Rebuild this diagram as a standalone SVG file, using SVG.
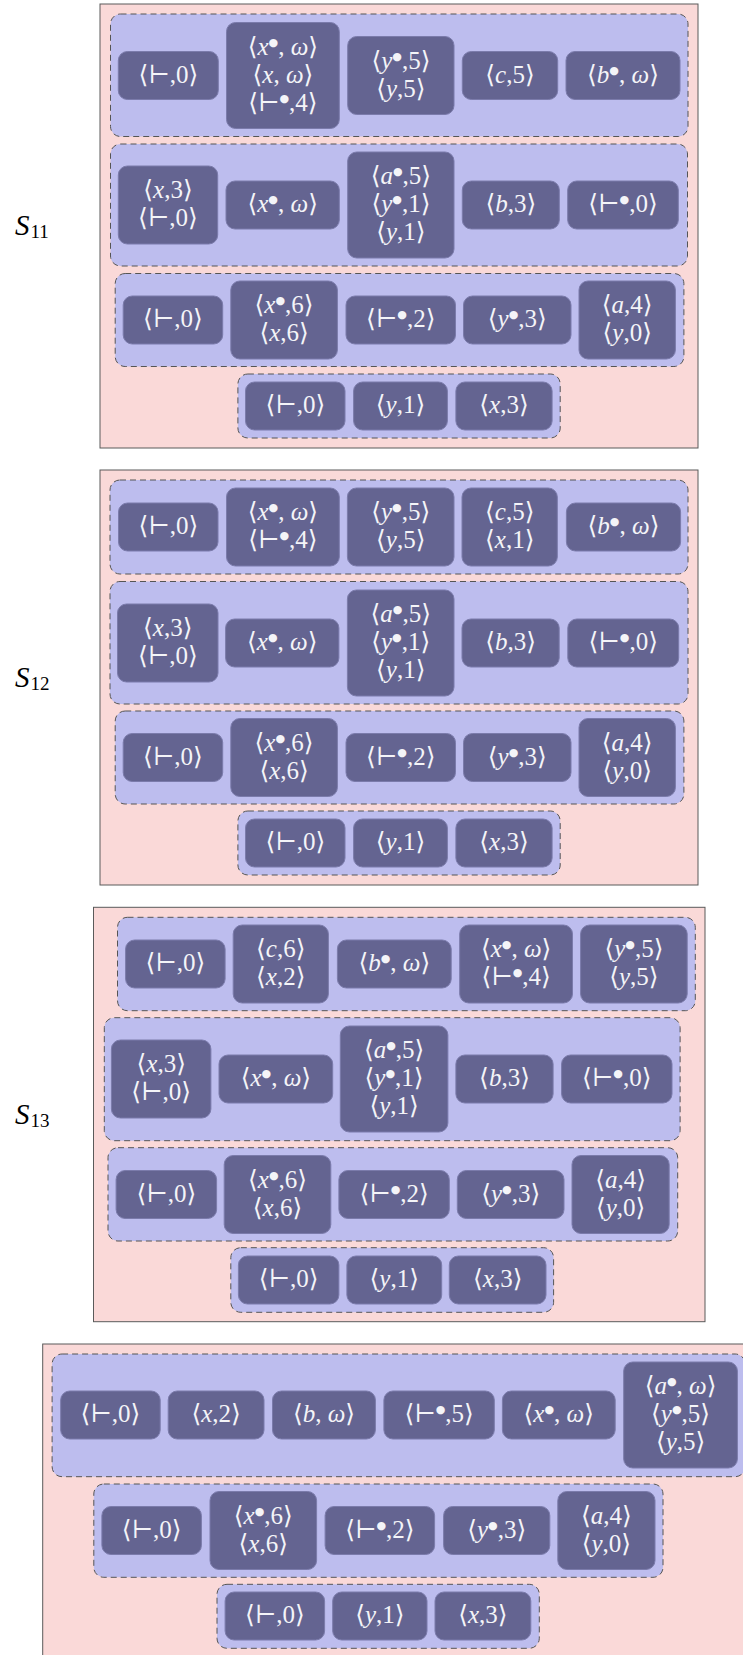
<svg xmlns="http://www.w3.org/2000/svg" width="743" height="1655" viewBox="0 0 743 1655">
<style>
.frame{fill:#fad9d8;stroke:#5a5a5a;stroke-width:1}
.grp{fill:#bdbdee;stroke:#555;stroke-width:1;stroke-dasharray:6 4}
.nd{fill:#646491;stroke:#7b7bab;stroke-width:1}
.t{font-family:"Liberation Serif","DejaVu Serif",serif;font-size:25px;fill:#f4f4f8;text-anchor:middle}
.i{font-style:italic}
.b{font-family:"DejaVu Sans",sans-serif;font-size:11px}
.lbl{font-family:"Liberation Serif","DejaVu Serif",serif;font-style:italic;font-size:29px;fill:#000}
.sub{font-style:normal;font-size:19px}
</style>
<rect width="743" height="1655" fill="#fff"/>

<!-- ================= S11 ================= -->
<g id="panel-s11">
<rect class="frame" x="100" y="4" width="598" height="444"/>
<text class="lbl" x="15" y="235">S<tspan class="sub" dx="1" dy="3">11</tspan></text>
<rect id="s11-row1" class="grp" x="110.5" y="14" width="577.5" height="122.5" rx="10"/>
<rect id="s11-row2" class="grp" x="110.5" y="144" width="577" height="122" rx="10"/>
<rect id="s11-row3" class="grp" x="115.2" y="273.5" width="568.7" height="93" rx="10"/>
<rect id="s11-row4" class="grp" x="237.9" y="374" width="322.3" height="64" rx="10"/>
</g>
<g id="s11-r1-n1"><rect class="nd" x="118.3" y="51.5" width="100" height="48" rx="9"/><text class="t" x="168.3" y="82.5">⟨⊢,0⟩</text></g>
<g id="s11-r1-n2"><rect class="nd" x="226.5" y="22.5" width="112.8" height="106" rx="9"/><text class="t" x="282.9" y="54.5">⟨<tspan class="i">x</tspan><tspan class="b" dy="-9">●</tspan><tspan dy="9">, </tspan><tspan class="i">ω</tspan>⟩</text><text class="t" x="282.9" y="82.5">⟨<tspan class="i">x</tspan>, <tspan class="i">ω</tspan>⟩</text><text class="t" x="282.9" y="110.5">⟨⊢<tspan class="b" dy="-9">●</tspan><tspan dy="9">,4⟩</tspan></text></g>
<g id="s11-r1-n3"><rect class="nd" x="347.7" y="36.5" width="106.3" height="78" rx="9"/><text class="t" x="400.9" y="68.5">⟨<tspan class="i">y</tspan><tspan class="b" dy="-9">●</tspan><tspan dy="9">,5⟩</tspan></text><text class="t" x="400.9" y="96.5">⟨<tspan class="i">y</tspan>,5⟩</text></g>
<g id="s11-r1-n4"><rect class="nd" x="462.3" y="51.5" width="95.4" height="48" rx="9"/><text class="t" x="510" y="82.5">⟨<tspan class="i">c</tspan>,5⟩</text></g>
<g id="s11-r1-n5"><rect class="nd" x="566" y="51.5" width="114" height="48" rx="9"/><text class="t" x="623" y="82.5">⟨<tspan class="i">b</tspan><tspan class="b" dy="-9">●</tspan><tspan dy="9">, </tspan><tspan class="i">ω</tspan>⟩</text></g>

<g id="s11-r2-n1"><rect class="nd" x="118.3" y="166" width="99.4" height="78" rx="9"/><text class="t" x="168" y="198">⟨<tspan class="i">x</tspan>,3⟩</text><text class="t" x="168" y="226">⟨⊢,0⟩</text></g>
<g id="s11-r2-n2"><rect class="nd" x="226" y="181" width="113.3" height="48" rx="9"/><text class="t" x="282.7" y="212">⟨<tspan class="i">x</tspan><tspan class="b" dy="-9">●</tspan><tspan dy="9">, </tspan><tspan class="i">ω</tspan>⟩</text></g>
<g id="s11-r2-n3"><rect class="nd" x="347.7" y="152" width="106.3" height="106" rx="9"/><text class="t" x="400.9" y="184">⟨<tspan class="i">a</tspan><tspan class="b" dy="-9">●</tspan><tspan dy="9">,5⟩</tspan></text><text class="t" x="400.9" y="212">⟨<tspan class="i">y</tspan><tspan class="b" dy="-9">●</tspan><tspan dy="9">,1⟩</tspan></text><text class="t" x="400.9" y="240">⟨<tspan class="i">y</tspan>,1⟩</text></g>
<g id="s11-r2-n4"><rect class="nd" x="462.3" y="181" width="97" height="48" rx="9"/><text class="t" x="510.8" y="212">⟨<tspan class="i">b</tspan>,3⟩</text></g>
<g id="s11-r2-n5"><rect class="nd" x="567.7" y="181" width="110.6" height="48" rx="9"/><text class="t" x="623" y="212">⟨⊢<tspan class="b" dy="-9">●</tspan><tspan dy="9">,0⟩</tspan></text></g>

<g id="s11-r3-n1"><rect class="nd" x="123.2" y="296" width="99.5" height="48" rx="9"/><text class="t" x="173" y="327">⟨⊢,0⟩</text></g>
<g id="s11-r3-n2"><rect class="nd" x="230.8" y="281" width="106.6" height="78" rx="9"/><text class="t" x="284.1" y="313">⟨<tspan class="i">x</tspan><tspan class="b" dy="-9">●</tspan><tspan dy="9">,6⟩</tspan></text><text class="t" x="284.1" y="341">⟨<tspan class="i">x</tspan>,6⟩</text></g>
<g id="s11-r3-n3"><rect class="nd" x="346" y="296" width="109.5" height="48" rx="9"/><text class="t" x="400.8" y="327">⟨⊢<tspan class="b" dy="-9">●</tspan><tspan dy="9">,2⟩</tspan></text></g>
<g id="s11-r3-n4"><rect class="nd" x="463.5" y="296" width="107.5" height="48" rx="9"/><text class="t" x="517.3" y="327">⟨<tspan class="i">y</tspan><tspan class="b" dy="-9">●</tspan><tspan dy="9">,3⟩</tspan></text></g>
<g id="s11-r3-n5"><rect class="nd" x="579" y="281" width="96.4" height="78" rx="9"/><text class="t" x="627.2" y="313">⟨<tspan class="i">a</tspan>,4⟩</text><text class="t" x="627.2" y="341">⟨<tspan class="i">y</tspan>,0⟩</text></g>

<g id="s11-r4-n1"><rect class="nd" x="245.5" y="382" width="99.5" height="48" rx="9"/><text class="t" x="295.3" y="413">⟨⊢,0⟩</text></g>
<g id="s11-r4-n2"><rect class="nd" x="353.6" y="382" width="93.8" height="48" rx="9"/><text class="t" x="400.5" y="413">⟨<tspan class="i">y</tspan>,1⟩</text></g>
<g id="s11-r4-n3"><rect class="nd" x="455.9" y="382" width="96.2" height="48" rx="9"/><text class="t" x="504" y="413">⟨<tspan class="i">x</tspan>,3⟩</text></g>

<!-- ================= S12 ================= -->
<g id="panel-s12">
<rect class="frame" x="100" y="470" width="598" height="415"/>
<text class="lbl" x="15" y="687">S<tspan class="sub" dx="1" dy="3">12</tspan></text>
<rect id="s12-row1" class="grp" x="110" y="480" width="578" height="94" rx="10"/>
<rect id="s12-row2" class="grp" x="110" y="581.5" width="578" height="122.5" rx="10"/>
<rect id="s12-row3" class="grp" x="115.2" y="711" width="568.7" height="93" rx="10"/>
<rect id="s12-row4" class="grp" x="237.9" y="811" width="322.3" height="64" rx="10"/>
</g>
<g id="s12-r1-n1"><rect class="nd" x="118.5" y="503" width="99.5" height="48" rx="9"/><text class="t" x="168.3" y="534">⟨⊢,0⟩</text></g>
<g id="s12-r1-n2"><rect class="nd" x="226.5" y="488" width="112.8" height="78" rx="9"/><text class="t" x="282.9" y="520">⟨<tspan class="i">x</tspan><tspan class="b" dy="-9">●</tspan><tspan dy="9">, </tspan><tspan class="i">ω</tspan>⟩</text><text class="t" x="282.9" y="548">⟨⊢<tspan class="b" dy="-9">●</tspan><tspan dy="9">,4⟩</tspan></text></g>
<g id="s12-r1-n3"><rect class="nd" x="347.4" y="488" width="106.6" height="78" rx="9"/><text class="t" x="400.7" y="520">⟨<tspan class="i">y</tspan><tspan class="b" dy="-9">●</tspan><tspan dy="9">,5⟩</tspan></text><text class="t" x="400.7" y="548">⟨<tspan class="i">y</tspan>,5⟩</text></g>
<g id="s12-r1-n4"><rect class="nd" x="462" y="488" width="95.3" height="78" rx="9"/><text class="t" x="509.7" y="520">⟨<tspan class="i">c</tspan>,5⟩</text><text class="t" x="509.7" y="548">⟨<tspan class="i">x</tspan>,1⟩</text></g>
<g id="s12-r1-n5"><rect class="nd" x="566.4" y="503" width="114.2" height="48" rx="9"/><text class="t" x="623.5" y="534">⟨<tspan class="i">b</tspan><tspan class="b" dy="-9">●</tspan><tspan dy="9">, </tspan><tspan class="i">ω</tspan>⟩</text></g>

<g id="s12-r2-n1"><rect class="nd" x="117.5" y="604" width="100.5" height="78" rx="9"/><text class="t" x="167.8" y="636">⟨<tspan class="i">x</tspan>,3⟩</text><text class="t" x="167.8" y="664">⟨⊢,0⟩</text></g>
<g id="s12-r2-n2"><rect class="nd" x="225.6" y="619" width="113.3" height="48" rx="9"/><text class="t" x="282.3" y="650">⟨<tspan class="i">x</tspan><tspan class="b" dy="-9">●</tspan><tspan dy="9">, </tspan><tspan class="i">ω</tspan>⟩</text></g>
<g id="s12-r2-n3"><rect class="nd" x="347.4" y="590" width="106.6" height="106" rx="9"/><text class="t" x="400.7" y="622">⟨<tspan class="i">a</tspan><tspan class="b" dy="-9">●</tspan><tspan dy="9">,5⟩</tspan></text><text class="t" x="400.7" y="650">⟨<tspan class="i">y</tspan><tspan class="b" dy="-9">●</tspan><tspan dy="9">,1⟩</tspan></text><text class="t" x="400.7" y="678">⟨<tspan class="i">y</tspan>,1⟩</text></g>
<g id="s12-r2-n4"><rect class="nd" x="462" y="619" width="97.2" height="48" rx="9"/><text class="t" x="510.6" y="650">⟨<tspan class="i">b</tspan>,3⟩</text></g>
<g id="s12-r2-n5"><rect class="nd" x="567.8" y="619" width="110.9" height="48" rx="9"/><text class="t" x="623.3" y="650">⟨⊢<tspan class="b" dy="-9">●</tspan><tspan dy="9">,0⟩</tspan></text></g>

<g id="s12-r3-n1"><rect class="nd" x="123.2" y="733.5" width="99.5" height="48" rx="9"/><text class="t" x="173" y="764.5">⟨⊢,0⟩</text></g>
<g id="s12-r3-n2"><rect class="nd" x="230.8" y="718.5" width="106.6" height="78" rx="9"/><text class="t" x="284.1" y="750.5">⟨<tspan class="i">x</tspan><tspan class="b" dy="-9">●</tspan><tspan dy="9">,6⟩</tspan></text><text class="t" x="284.1" y="778.5">⟨<tspan class="i">x</tspan>,6⟩</text></g>
<g id="s12-r3-n3"><rect class="nd" x="346" y="733.5" width="109.5" height="48" rx="9"/><text class="t" x="400.8" y="764.5">⟨⊢<tspan class="b" dy="-9">●</tspan><tspan dy="9">,2⟩</tspan></text></g>
<g id="s12-r3-n4"><rect class="nd" x="463.5" y="733.5" width="107.5" height="48" rx="9"/><text class="t" x="517.3" y="764.5">⟨<tspan class="i">y</tspan><tspan class="b" dy="-9">●</tspan><tspan dy="9">,3⟩</tspan></text></g>
<g id="s12-r3-n5"><rect class="nd" x="579" y="718.5" width="96.4" height="78" rx="9"/><text class="t" x="627.2" y="750.5">⟨<tspan class="i">a</tspan>,4⟩</text><text class="t" x="627.2" y="778.5">⟨<tspan class="i">y</tspan>,0⟩</text></g>

<g id="s12-r4-n1"><rect class="nd" x="245.5" y="819" width="99.5" height="48" rx="9"/><text class="t" x="295.3" y="850">⟨⊢,0⟩</text></g>
<g id="s12-r4-n2"><rect class="nd" x="353.6" y="819" width="93.8" height="48" rx="9"/><text class="t" x="400.5" y="850">⟨<tspan class="i">y</tspan>,1⟩</text></g>
<g id="s12-r4-n3"><rect class="nd" x="455.9" y="819" width="96.2" height="48" rx="9"/><text class="t" x="504" y="850">⟨<tspan class="i">x</tspan>,3⟩</text></g>

<!-- ================= S13 ================= -->
<g id="panel-s13">
<rect class="frame" x="93.5" y="907.3" width="611.5" height="414.4"/>
<text class="lbl" x="15" y="1123.5">S<tspan class="sub" dx="1" dy="3">13</tspan></text>
<rect id="s13-row1" class="grp" x="117.5" y="917.3" width="577.8" height="93.4" rx="10"/>
<rect id="s13-row2" class="grp" x="104.3" y="1017.7" width="575.8" height="123" rx="10"/>
<rect id="s13-row3" class="grp" x="108" y="1147.7" width="569.7" height="93.3" rx="10"/>
<rect id="s13-row4" class="grp" x="230.8" y="1247.7" width="322.8" height="64.6" rx="10"/>
</g>
<g id="s13-r1-n1"><rect class="nd" x="125.6" y="940" width="99.5" height="48" rx="9"/><text class="t" x="175.4" y="971">⟨⊢,0⟩</text></g>
<g id="s13-r1-n2"><rect class="nd" x="233.2" y="925" width="95.2" height="78" rx="9"/><text class="t" x="280.8" y="957">⟨<tspan class="i">c</tspan>,6⟩</text><text class="t" x="280.8" y="985">⟨<tspan class="i">x</tspan>,2⟩</text></g>
<g id="s13-r1-n3"><rect class="nd" x="337.4" y="940" width="113.8" height="48" rx="9"/><text class="t" x="394.3" y="971">⟨<tspan class="i">b</tspan><tspan class="b" dy="-9">●</tspan><tspan dy="9">, </tspan><tspan class="i">ω</tspan>⟩</text></g>
<g id="s13-r1-n4"><rect class="nd" x="459.7" y="925" width="112.8" height="78" rx="9"/><text class="t" x="516.1" y="957">⟨<tspan class="i">x</tspan><tspan class="b" dy="-9">●</tspan><tspan dy="9">, </tspan><tspan class="i">ω</tspan>⟩</text><text class="t" x="516.1" y="985">⟨⊢<tspan class="b" dy="-9">●</tspan><tspan dy="9">,4⟩</tspan></text></g>
<g id="s13-r1-n5"><rect class="nd" x="580.6" y="925" width="106.6" height="78" rx="9"/><text class="t" x="633.9" y="957">⟨<tspan class="i">y</tspan><tspan class="b" dy="-9">●</tspan><tspan dy="9">,5⟩</tspan></text><text class="t" x="633.9" y="985">⟨<tspan class="i">y</tspan>,5⟩</text></g>

<g id="s13-r2-n1"><rect class="nd" x="111.4" y="1040" width="99.5" height="78" rx="9"/><text class="t" x="161.2" y="1072">⟨<tspan class="i">x</tspan>,3⟩</text><text class="t" x="161.2" y="1100">⟨⊢,0⟩</text></g>
<g id="s13-r2-n2"><rect class="nd" x="219" y="1055" width="113.7" height="48" rx="9"/><text class="t" x="275.9" y="1086">⟨<tspan class="i">x</tspan><tspan class="b" dy="-9">●</tspan><tspan dy="9">, </tspan><tspan class="i">ω</tspan>⟩</text></g>
<g id="s13-r2-n3"><rect class="nd" x="340.3" y="1026" width="107.6" height="106" rx="9"/><text class="t" x="394.1" y="1058">⟨<tspan class="i">a</tspan><tspan class="b" dy="-9">●</tspan><tspan dy="9">,5⟩</tspan></text><text class="t" x="394.1" y="1086">⟨<tspan class="i">y</tspan><tspan class="b" dy="-9">●</tspan><tspan dy="9">,1⟩</tspan></text><text class="t" x="394.1" y="1114">⟨<tspan class="i">y</tspan>,1⟩</text></g>
<g id="s13-r2-n4"><rect class="nd" x="455.9" y="1055" width="97.2" height="48" rx="9"/><text class="t" x="504.5" y="1086">⟨<tspan class="i">b</tspan>,3⟩</text></g>
<g id="s13-r2-n5"><rect class="nd" x="561.6" y="1055" width="110.4" height="48" rx="9"/><text class="t" x="616.8" y="1086">⟨⊢<tspan class="b" dy="-9">●</tspan><tspan dy="9">,0⟩</tspan></text></g>

<g id="s13-r3-n1"><rect class="nd" x="116.1" y="1170.5" width="100.5" height="48" rx="9"/><text class="t" x="166.4" y="1201.5">⟨⊢,0⟩</text></g>
<g id="s13-r3-n2"><rect class="nd" x="224.2" y="1155.5" width="106.6" height="78" rx="9"/><text class="t" x="277.5" y="1187.5">⟨<tspan class="i">x</tspan><tspan class="b" dy="-9">●</tspan><tspan dy="9">,6⟩</tspan></text><text class="t" x="277.5" y="1215.5">⟨<tspan class="i">x</tspan>,6⟩</text></g>
<g id="s13-r3-n3"><rect class="nd" x="338.9" y="1170.5" width="110.4" height="48" rx="9"/><text class="t" x="394.1" y="1201.5">⟨⊢<tspan class="b" dy="-9">●</tspan><tspan dy="9">,2⟩</tspan></text></g>
<g id="s13-r3-n4"><rect class="nd" x="457.3" y="1170.5" width="106.7" height="48" rx="9"/><text class="t" x="510.7" y="1201.5">⟨<tspan class="i">y</tspan><tspan class="b" dy="-9">●</tspan><tspan dy="9">,3⟩</tspan></text></g>
<g id="s13-r3-n5"><rect class="nd" x="572" y="1155.5" width="97.2" height="78" rx="9"/><text class="t" x="620.6" y="1187.5">⟨<tspan class="i">a</tspan>,4⟩</text><text class="t" x="620.6" y="1215.5">⟨<tspan class="i">y</tspan>,0⟩</text></g>

<g id="s13-r4-n1"><rect class="nd" x="238.4" y="1256" width="100.5" height="48" rx="9"/><text class="t" x="288.7" y="1287">⟨⊢,0⟩</text></g>
<g id="s13-r4-n2"><rect class="nd" x="346.9" y="1256" width="94.8" height="48" rx="9"/><text class="t" x="394.3" y="1287">⟨<tspan class="i">y</tspan>,1⟩</text></g>
<g id="s13-r4-n3"><rect class="nd" x="449.3" y="1256" width="96.7" height="48" rx="9"/><text class="t" x="497.7" y="1287">⟨<tspan class="i">x</tspan>,3⟩</text></g>

<!-- ================= Panel 4 ================= -->
<g id="panel-4">
<rect class="frame" x="42.7" y="1344" width="760" height="400"/>
<rect id="p4-row1" class="grp" x="52.1" y="1354" width="693" height="122.7" rx="10"/>
<rect id="p4-row2" class="grp" x="93.8" y="1484" width="569.2" height="93.3" rx="10"/>
<rect id="p4-row3" class="grp" x="217" y="1584.3" width="322.3" height="64" rx="10"/>
</g>
<g id="p4-r1-n1"><rect class="nd" x="60.7" y="1391" width="99.5" height="48" rx="9"/><text class="t" x="110.5" y="1422">⟨⊢,0⟩</text></g>
<g id="p4-r1-n2"><rect class="nd" x="168.2" y="1391" width="95.8" height="48" rx="9"/><text class="t" x="216.1" y="1422">⟨<tspan class="i">x</tspan>,2⟩</text></g>
<g id="p4-r1-n3"><rect class="nd" x="272.5" y="1391" width="102.9" height="48" rx="9"/><text class="t" x="324" y="1422">⟨<tspan class="i">b</tspan>, <tspan class="i">ω</tspan>⟩</text></g>
<g id="p4-r1-n4"><rect class="nd" x="383.9" y="1391" width="110.4" height="48" rx="9"/><text class="t" x="439.1" y="1422">⟨⊢<tspan class="b" dy="-9">●</tspan><tspan dy="9">,5⟩</tspan></text></g>
<g id="p4-r1-n5"><rect class="nd" x="502.4" y="1391" width="112.8" height="48" rx="9"/><text class="t" x="558.8" y="1422">⟨<tspan class="i">x</tspan><tspan class="b" dy="-9">●</tspan><tspan dy="9">, </tspan><tspan class="i">ω</tspan>⟩</text></g>
<g id="p4-r1-n6"><rect class="nd" x="623.7" y="1362" width="113.7" height="106" rx="9"/><text class="t" x="680.6" y="1394">⟨<tspan class="i">a</tspan><tspan class="b" dy="-9">●</tspan><tspan dy="9">, </tspan><tspan class="i">ω</tspan>⟩</text><text class="t" x="680.6" y="1422">⟨<tspan class="i">y</tspan><tspan class="b" dy="-9">●</tspan><tspan dy="9">,5⟩</tspan></text><text class="t" x="680.6" y="1450">⟨<tspan class="i">y</tspan>,5⟩</text></g>

<g id="p4-r2-n1"><rect class="nd" x="101.9" y="1506.5" width="99.5" height="48" rx="9"/><text class="t" x="151.7" y="1537.5">⟨⊢,0⟩</text></g>
<g id="p4-r2-n2"><rect class="nd" x="210" y="1491.5" width="106.6" height="78" rx="9"/><text class="t" x="263.3" y="1523.5">⟨<tspan class="i">x</tspan><tspan class="b" dy="-9">●</tspan><tspan dy="9">,6⟩</tspan></text><text class="t" x="263.3" y="1551.5">⟨<tspan class="i">x</tspan>,6⟩</text></g>
<g id="p4-r2-n3"><rect class="nd" x="325.1" y="1506.5" width="109.5" height="48" rx="9"/><text class="t" x="379.9" y="1537.5">⟨⊢<tspan class="b" dy="-9">●</tspan><tspan dy="9">,2⟩</tspan></text></g>
<g id="p4-r2-n4"><rect class="nd" x="443.6" y="1506.5" width="106.2" height="48" rx="9"/><text class="t" x="496.7" y="1537.5">⟨<tspan class="i">y</tspan><tspan class="b" dy="-9">●</tspan><tspan dy="9">,3⟩</tspan></text></g>
<g id="p4-r2-n5"><rect class="nd" x="557.8" y="1491.5" width="97.2" height="78" rx="9"/><text class="t" x="606.4" y="1523.5">⟨<tspan class="i">a</tspan>,4⟩</text><text class="t" x="606.4" y="1551.5">⟨<tspan class="i">y</tspan>,0⟩</text></g>

<g id="p4-r3-n1"><rect class="nd" x="225.1" y="1592" width="99.5" height="48" rx="9"/><text class="t" x="274.9" y="1623">⟨⊢,0⟩</text></g>
<g id="p4-r3-n2"><rect class="nd" x="332.7" y="1592" width="94.3" height="48" rx="9"/><text class="t" x="379.9" y="1623">⟨<tspan class="i">y</tspan>,1⟩</text></g>
<g id="p4-r3-n3"><rect class="nd" x="435" y="1592" width="95.8" height="48" rx="9"/><text class="t" x="482.9" y="1623">⟨<tspan class="i">x</tspan>,3⟩</text></g>

<g id="connectors"></g>
</svg>
